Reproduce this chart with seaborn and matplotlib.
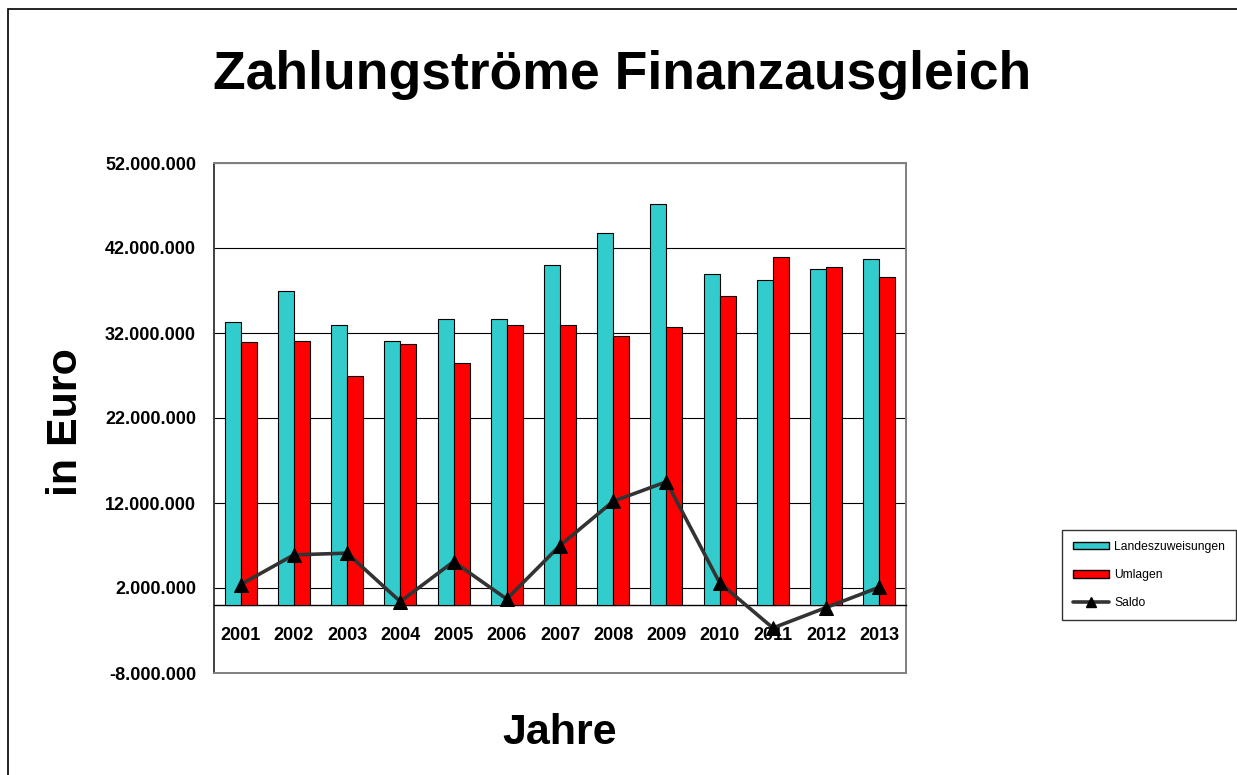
import numpy as np
import pandas as pd
import matplotlib
matplotlib.use("Agg")
import matplotlib.pyplot as plt
import matplotlib.patches as mpatches
from matplotlib.lines import Line2D
import seaborn as sns

# ---- data ----
years = ["2001", "2002", "2003", "2004", "2005", "2006", "2007",
         "2008", "2009", "2010", "2011", "2012", "2013"]
landeszuweisungen = [33.3e6, 37.0e6, 33.0e6, 31.1e6, 33.6e6, 33.6e6, 40.0e6,
                     43.8e6, 47.2e6, 39.0e6, 38.2e6, 39.5e6, 40.7e6]
umlagen = [30.9e6, 31.1e6, 26.9e6, 30.7e6, 28.5e6, 32.9e6, 33.0e6,
           31.6e6, 32.7e6, 36.4e6, 40.9e6, 39.8e6, 38.6e6]
saldo = [2.4e6, 5.9e6, 6.1e6, 0.4e6, 5.1e6, 0.7e6, 7.0e6,
         12.2e6, 14.5e6, 2.6e6, -2.7e6, -0.3e6, 2.1e6]
series_names = ["Landeszuweisungen", "Umlagen", "Saldo"]
y_ticks = [-8e6, 2e6, 12e6, 22e6, 32e6, 42e6, 52e6]
y_tick_labels = ["-8.000.000", "2.000.000", "12.000.000", "22.000.000",
                 "32.000.000", "42.000.000", "52.000.000"]
title = "Zahlungströme Finanzausgleich"
x_label = "Jahre"
y_label = "in Euro"

TEAL = "#33CCCC"
RED = "#FF0000"

sns.set_style("white")
plt.rcParams["font.family"] = ["Liberation Sans", "DejaVu Sans"]
plt.rcParams["text.color"] = "black"
plt.rcParams["xtick.labelcolor"] = "black"
plt.rcParams["ytick.labelcolor"] = "black"

W, H = 1237, 775
fig = plt.figure(figsize=(W / 100, H / 100), dpi=100)
fig.patch.set_facecolor("white")

L, R, T, B = 214, 906, 163, 673
ax = fig.add_axes([L / W, 1 - B / H, (R - L) / W, (B - T) / H])

df = pd.DataFrame({
    "Jahr": years * 2,
    "Wert": landeszuweisungen + umlagen,
    "Reihe": [series_names[0]] * len(years) + [series_names[1]] * len(years),
})

sns.barplot(data=df, x="Jahr", y="Wert", hue="Reihe",
            hue_order=series_names[:2], palette=[TEAL, RED],
            width=0.6, saturation=1, edgecolor="black", linewidth=0.8,
            legend=False, ax=ax, zorder=3)

sns.lineplot(x=np.arange(len(years)), y=saldo, color="#333333", linewidth=2.6,
             marker="^", markersize=10, markerfacecolor="black",
             markeredgecolor="black", legend=False, ax=ax, zorder=5)

ax.set_xlim(-0.5, len(years) - 0.5)
ax.set_ylim(y_ticks[0], y_ticks[-1])
ax.set_yticks(y_ticks)
ax.set_yticklabels(y_tick_labels, fontsize=13, fontweight="bold", color="black")
ax.tick_params(axis="y", direction="out", length=6, width=1, color="#606060", pad=7)

ax.set_axisbelow(True)
ax.yaxis.grid(True, color="black", linewidth=0.8)
ax.xaxis.grid(False)

# x axis crossing at zero, ticks between categories, labels at centers
ax.spines["bottom"].set_position(("data", 0))
ax.spines["bottom"].set_color("black")
ax.spines["bottom"].set_linewidth(1.0)
ax.set_xticks(np.arange(-0.5, len(years), 1.0))
ax.set_xticklabels([])
ax.set_xticks(np.arange(len(years)), minor=True)
ax.set_xticklabels(years, minor=True, fontsize=13, fontweight="bold", color="black")
ax.tick_params(axis="x", which="major", direction="out", length=6, width=1, color="black")
ax.tick_params(axis="x", which="minor", length=0, pad=16)

ax.set_xlabel("")
ax.set_ylabel("")

for s in ["top", "right"]:
    ax.spines[s].set_color("#808080")
    ax.spines[s].set_linewidth(1.4)
    ax.spines[s].set_visible(True)
ax.spines["left"].set_color("#404040")
ax.spines["left"].set_linewidth(1.4)
ax.spines["left"].set_visible(True)
# bottom frame of plot area
ax.plot([0, 1], [0, 0], transform=ax.transAxes, color="#808080",
        linewidth=1.4, clip_on=False, zorder=6)

# titles
fig.text(622.5 / W, 1 - 89 / H, title, ha="center", va="baseline",
         fontsize=38.5, fontweight="bold", color="black")
fig.text(559.5 / W, 1 - 744 / H, x_label, ha="center", va="baseline",
         fontsize=31, fontweight="bold", color="black")
fig.text(77 / W, 1 - 422 / H, y_label, ha="center", va="baseline",
         rotation=90, rotation_mode="anchor", fontsize=31, fontweight="bold",
         color="black")

# legend
handles = [
    mpatches.Patch(facecolor=TEAL, edgecolor="black", linewidth=1.0),
    mpatches.Patch(facecolor=RED, edgecolor="black", linewidth=1.0),
    Line2D([0], [0], color="#333333", linewidth=2.6, marker="^",
           markersize=7, markerfacecolor="black", markeredgecolor="black"),
]
leg = fig.legend(handles, series_names, loc="upper left",
                 bbox_to_anchor=(1062 / W, 1 - 530 / H),
                 bbox_transform=fig.transFigure,
                 fontsize=8.7, frameon=True, fancybox=False, shadow=False,
                 handlelength=3.0, handleheight=0.6, handletextpad=0.4,
                 labelspacing=1.35, borderpad=0.9, borderaxespad=0,
                 labelcolor="black")
leg.get_frame().set_edgecolor("black")
leg.get_frame().set_linewidth(1.0)

# outer chart border (left/top visible)
fig.patches.append(mpatches.Rectangle((8 / W, -0.1), 1.2, (H - 9) / H + 0.1,
                                      transform=fig.transFigure, fill=False,
                                      edgecolor="black", linewidth=1.2))

fig.savefig("out.png", dpi=100)
